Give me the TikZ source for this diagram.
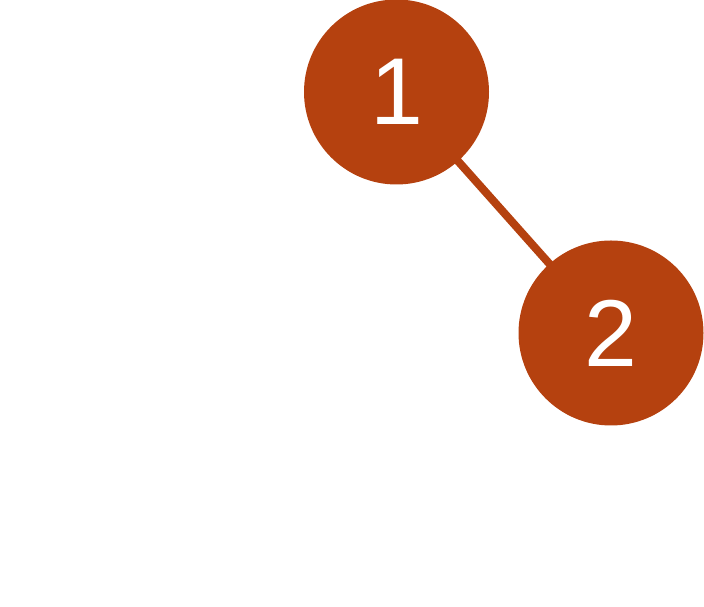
\documentclass[tikz,border=0pt]{standalone}
\usepackage{fontspec}
\setmainfont{Liberation Sans}
\usetikzlibrary{backgrounds}
\definecolor{rust}{HTML}{B5410F}
\begin{document}
\begin{tikzpicture}[x=1pt,y=1pt,
  numnode/.style={circle,fill=rust,minimum size=185pt,inner sep=0pt,text=white,font=\fontsize{95}{95}\selectfont},
  link/.style={draw=rust,line width=8pt}]
\useasboundingbox (0,0) rectangle (704,607);
\node[numnode] (n1) at (396.5,515) {\raisebox{-2pt}{1}};
\node[numnode] (n2) at (611,274) {\raisebox{-2pt}{2}};
\begin{scope}[on background layer]
\draw[link] (n1.center) -- (n2.center);
\end{scope}
\end{tikzpicture}
\end{document}
